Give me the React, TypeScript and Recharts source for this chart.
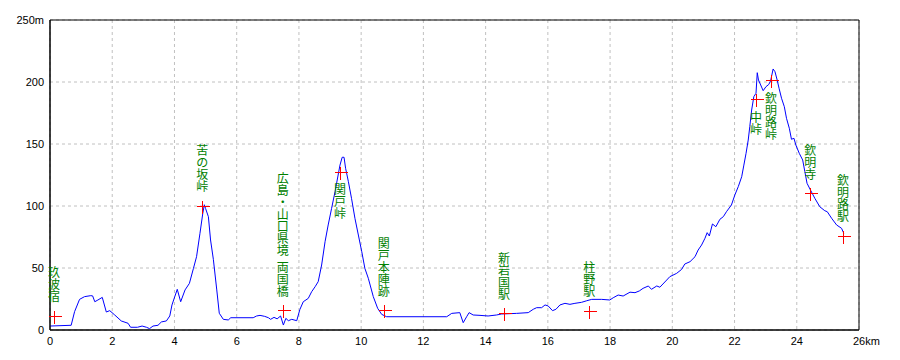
import React from 'react';
import { ComposedChart, Line, XAxis, YAxis, CartesianGrid, ReferenceDot, ReferenceArea } from 'recharts';

const kmValues = [
  0, 0.68, 0.79, 0.95, 1.11, 1.31, 1.37, 1.44, 1.54, 1.68, 1.81, 1.92, 2.08, 2.29, 2.51, 2.59, 2.81, 2.96, 3.1, 3.2,
  3.31, 3.47, 3.58, 3.74, 3.85, 3.92, 4.01, 4.09, 4.2, 4.34, 4.48, 4.61, 4.71, 4.82, 4.91, 4.96, 5.0, 5.09, 5.16, 5.25,
  5.36, 5.44, 5.57, 5.73, 5.81, 6.53, 6.64, 6.75, 6.9, 7.02, 7.09, 7.2, 7.3, 7.41, 7.5, 7.58, 7.66, 7.77, 7.93, 8.03,
  8.14, 8.3, 8.41, 8.52, 8.62, 8.73, 8.84, 8.94, 9.05, 9.16, 9.26, 9.32, 9.39, 9.45, 9.5, 9.59, 9.69, 9.8, 9.91, 10.02,
  10.12, 10.23, 10.39, 10.53, 10.66, 10.82, 12.75, 12.91, 13.17, 13.28, 13.39, 13.47, 13.6, 13.82, 14.08, 14.35, 14.51, 14.99, 15.37, 15.53,
  15.64, 15.8, 15.91, 16.01, 16.15, 16.26, 16.39, 16.55, 16.71, 16.87, 17.08, 17.25, 17.41, 17.73, 17.99, 18.1, 18.26, 18.42, 18.64, 18.8,
  18.94, 19.06, 19.23, 19.33, 19.5, 19.6, 19.82, 19.92, 20.14, 20.3, 20.4, 20.57, 20.73, 20.83, 20.94, 21.05, 21.12, 21.19, 21.29, 21.4,
  21.53, 21.64, 21.74, 21.9, 22.01, 22.12, 22.23, 22.3, 22.37, 22.44, 22.49, 22.55, 22.62, 22.69, 22.73, 22.77, 22.84, 22.92, 23.01, 23.1,
  23.16, 23.24, 23.3, 23.37, 23.43, 23.51, 23.6, 23.67, 23.76, 23.83, 23.91, 23.97, 24.08, 24.19, 24.26, 24.33, 24.44, 24.58, 24.74, 24.9,
  24.98, 25.12, 25.28, 25.44, 25.51,
];

const elevValues = [
  3.2, 3.8, 14.8, 24.7, 26.9, 27.7, 27.5, 22.8, 24.2, 26.3, 14.5, 15.6, 12.1, 7.3, 5.4, 2.2, 2.2, 3.2, 2.2, 1.1,
  3.2, 3.8, 6.5, 7.3, 11.3, 20.2, 26.9, 32.8, 22.8, 32.3, 37.6, 49.7, 59.1, 78, 94, 101, 98, 91.4, 72.6, 57,
  32.3, 13.5, 8.6, 8.1, 9.9, 9.9, 11.3, 11.8, 11, 9.9, 8.6, 10.2, 9, 11.3, 4, 9.4, 7.5, 8.6, 7.5, 16.5,
  22.8, 25.5, 30.9, 34.9, 39, 52.4, 71.2, 84.7, 98.1, 111.5, 125, 133, 139.3, 139.3, 130.4, 119.6, 106.2, 90.1, 76.6, 63.1,
  49.7, 41.7, 26.9, 17.5, 12.6, 10.7, 10.7, 13.4, 14, 5.9, 10.7, 14, 12.1, 11.8, 11.3, 12.1, 12.9, 13.4, 14, 16.7,
  18, 18, 20.2, 19.4, 15.6, 16.7, 20.2, 21.5, 20.7, 21.5, 22.3, 23.6, 24.7, 24.7, 24.2, 26, 28.2, 27.4, 30.5, 30.1,
  31.5, 33.6, 35.5, 32.8, 35.5, 34.5, 40.3, 43, 45.7, 48.9, 53.2, 55.1, 59.1, 64.5, 68.5, 74, 78.5, 75.8, 85.5, 83.3,
  89.3, 91.4, 95.4, 100.8, 108.9, 115.6, 123.6, 133, 142.5, 153.2, 164, 177.4, 188.2, 190.9, 207.5, 201.6, 197.6, 193, 196.2, 198,
  201, 210.5, 208.3, 201.6, 195, 186.9, 180.1, 170.7, 162.7, 153.8, 154.6, 149.2, 142.5, 137.1, 127.7, 118.3, 112.9, 106.2, 99.4, 96.2,
  95.4, 90.1, 84.7, 82, 78,
];

const markerNames = ['玖波宿', '苦の坂峠', '広島・山口県境 両国橋', '関戸峠', '関戸本陣跡', '新岩国駅', '柱野駅', '中峠', '欽明路峠', '欽明寺', '欽明路駅'];
const markerKm = [0.13, 4.89, 7.48, 9.32, 10.73, 14.59, 17.33, 22.69, 23.17, 24.43, 25.49];
const markerElev = [11.5, 100.2, 16, 127.5, 16.1, 13.4, 15.5, 186, 201.3, 110.2, 76.1];
const markerLabelBelow = [false, false, false, true, false, false, false, true, true, false, false];

const xTicks = [0, 2, 4, 6, 8, 10, 12, 14, 16, 18, 20, 22, 24, 26];
const yTicks = [0, 50, 100, 150, 200, 250];

const profile = kmValues.map((km, i) => ({ km, elev: elevValues[i] }));

const TICK_FONT = '"Liberation Sans", Arial, sans-serif';
const LABEL_FONT = '"Noto Sans CJK JP", sans-serif';

const XTick = (props: any) => {
  const { x, y, payload } = props;
  const v = payload.value;
  if (v === 26) {
    return (
      <text x={x - 6} y={y + 11} textAnchor="start" dominantBaseline="central" fontFamily={TICK_FONT} fontSize={11} fill="#000">
        26km
      </text>
    );
  }
  return (
    <text x={x} y={y + 11} textAnchor="middle" dominantBaseline="central" fontFamily={TICK_FONT} fontSize={11} fill="#000">
      {v}
    </text>
  );
};

const YTick = (props: any) => {
  const { x, y, payload } = props;
  const v = payload.value;
  return (
    <text x={x} y={y} textAnchor="end" dominantBaseline="central" fontFamily={TICK_FONT} fontSize={11} fill="#000">
      {v === 250 ? '250m' : v}
    </text>
  );
};

const MarkerShape = ({ cx, cy, name, below }: any) => {
  if (cx == null || cy == null) return null;
  const chars = Array.from(name as string);
  const heights = chars.map((c) => (c === ' ' ? 5 : 12));
  const total = heights.reduce((a, b) => a + b, 0);
  const top = below ? cy + 11 : cy - 14 - total;
  let acc = top;
  const px = Math.round(cx) + 0.5;
  const py = Math.round(cy) + 0.5;
  return (
    <g>
      <line x1={px - 6} y1={py} x2={px + 7} y2={py} stroke="#ff0000" strokeWidth={1} shapeRendering="crispEdges" />
      <line x1={px} y1={py - 6} x2={px} y2={py + 7} stroke="#ff0000" strokeWidth={1} shapeRendering="crispEdges" />
      {chars.map((c, i) => {
        const h = heights[i];
        const yc = acc + h / 2;
        acc += h;
        if (c === ' ') return null;
        return (
          <text key={i} x={cx} y={yc} textAnchor="middle" dominantBaseline="central" fontFamily={LABEL_FONT} fontSize={12} fill="#008000">
            {c}
          </text>
        );
      })}
    </g>
  );
};

export default function App() {
  return (
    <div style={{ position: 'absolute', left: 0, top: 0, width: 900, height: 360, background: '#fff' }}>
      <ComposedChart width={900} height={360} data={profile} margin={{ top: 20, right: 41, bottom: 0, left: 0 }}>
        <CartesianGrid stroke="#c0c0c0" strokeDasharray="3 3" />
        <XAxis
          type="number"
          dataKey="km"
          domain={[0, 26]}
          ticks={xTicks}
          interval={0}
          height={30}
          tickSize={0}
          tickMargin={0}
          tickLine={false}
          axisLine={{ stroke: '#000' }}
          tick={<XTick />}
          allowDataOverflow
        />
        <YAxis
          type="number"
          domain={[0, 250]}
          ticks={yTicks}
          interval={0}
          width={50}
          tickSize={0}
          tickMargin={6}
          tickLine={false}
          axisLine={{ stroke: '#000' }}
          tick={<YTick />}
          allowDataOverflow
        />
        <ReferenceArea x1={0} x2={26} y1={0} y2={250} fill="none" stroke="#000" strokeWidth={1} ifOverflow="visible" />
        <Line type="linear" dataKey="elev" stroke="#0000ff" strokeWidth={1} dot={false} activeDot={false} isAnimationActive={false} />
        {markerNames.map((name, i) => (
          <ReferenceDot
            key={name}
            x={markerKm[i]}
            y={markerElev[i]}
            ifOverflow="visible"
            shape={(p: any) => <MarkerShape cx={p.cx} cy={p.cy} name={name} below={markerLabelBelow[i]} />}
          />
        ))}
      </ComposedChart>
    </div>
  );
}
